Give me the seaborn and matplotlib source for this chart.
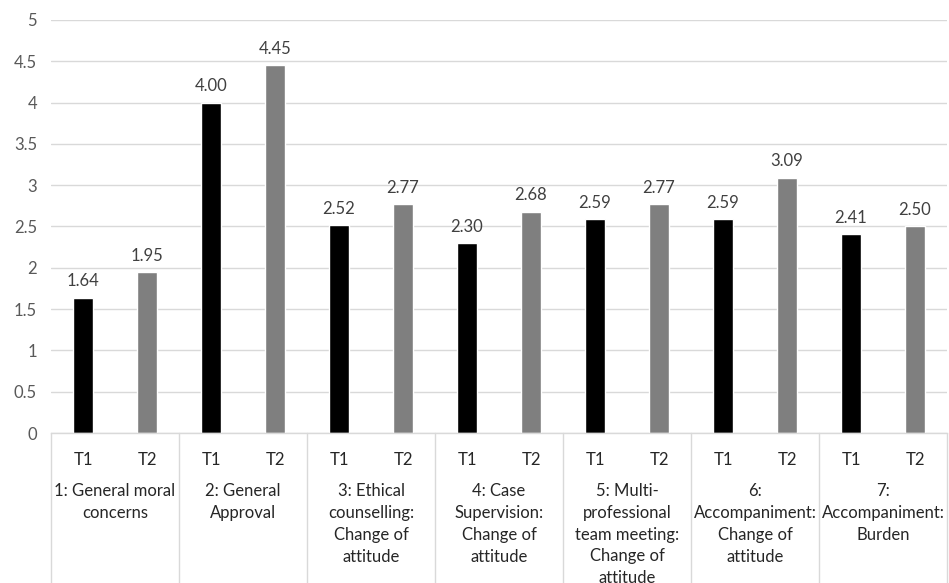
import matplotlib
matplotlib.use("Agg")
import matplotlib.pyplot as plt
import seaborn as sns
import pandas as pd

groups = [
    "1: General moral\nconcerns",
    "2: General\nApproval",
    "3: Ethical\ncounselling:\nChange of\nattitude",
    "4: Case\nSupervision:\nChange of\nattitude",
    "5: Multi-\nprofessional\nteam meeting:\nChange of\nattitude",
    "6:\nAccompaniment:\nChange of\nattitude",
    "7:\nAccompaniment:\nBurden",
]
times = ["T1", "T2"]
t1_values = [1.64, 4.00, 2.52, 2.30, 2.59, 2.59, 2.41]
t2_values = [1.95, 4.45, 2.77, 2.68, 2.77, 3.09, 2.50]
y_ticks = [0, 0.5, 1, 1.5, 2, 2.5, 3, 3.5, 4, 4.5, 5]
bar_colors = ["#000000", "#7f7f7f"]

df = pd.DataFrame({
    "group": groups * 2,
    "time": ["T1"] * len(groups) + ["T2"] * len(groups),
    "score": t1_values + t2_values,
})

sns.set_theme(style="white")
plt.rcParams["font.family"] = ["Lato", "DejaVu Sans"]
label_color = "#404040"
tick_color = "#595959"
cat_color = "#262626"
line_color = "#d9d9d9"
fs = 12

W, H = 949, 583
fig = plt.figure(figsize=(W / 100, H / 100), dpi=100)
ax = fig.add_axes([51 / W, 1 - 433 / H, (947 - 51) / W, (433 - 20) / H])

sns.barplot(data=df, x="group", y="score", hue="time", hue_order=times,
            palette=bar_colors, width=1.0, gap=0.69, saturation=1,
            legend=False, ax=ax, errorbar=None)

for cont in ax.containers:
    ax.bar_label(cont, fmt="%.2f", padding=6, fontsize=fs, color=label_color)

ax.set_ylim(0, 5)
ax.set_xlim(-0.5, len(groups) - 0.5)
ax.set_yticks(y_ticks)
ax.set_yticklabels([f"{v:g}" for v in y_ticks])
ax.yaxis.grid(True, color=line_color, linewidth=1)
ax.set_axisbelow(True)
ax.tick_params(axis="y", length=0, pad=10, labelsize=fs, labelcolor=tick_color)
for side in ["top", "right", "left"]:
    ax.spines[side].set_visible(False)
ax.spines["bottom"].set_color(line_color)
ax.spines["bottom"].set_linewidth(1)
ax.set_xlabel("")
ax.set_ylabel("")

# Two-level category axis: T1/T2 under each bar, group name below
tick_pos = []
tick_lab = []
for i in range(len(groups)):
    tick_pos += [i - 0.25, i + 0.25]
    tick_lab += times
ax.set_xticks(tick_pos)
ax.set_xticklabels(tick_lab)
ax.tick_params(axis="x", length=0, pad=14, labelsize=fs, labelcolor=cat_color)

trans = ax.get_xaxis_transform()
for i, g in enumerate(groups):
    ax.text(i, -0.12, g, transform=trans, ha="center", va="top",
            fontsize=fs, color=cat_color, linespacing=1.46)
for b in range(len(groups) + 1):
    ax.plot([b - 0.5, b - 0.5], [0, -0.37], transform=trans, color=line_color,
            linewidth=1, clip_on=False)

fig.savefig("out.png", dpi=100)
